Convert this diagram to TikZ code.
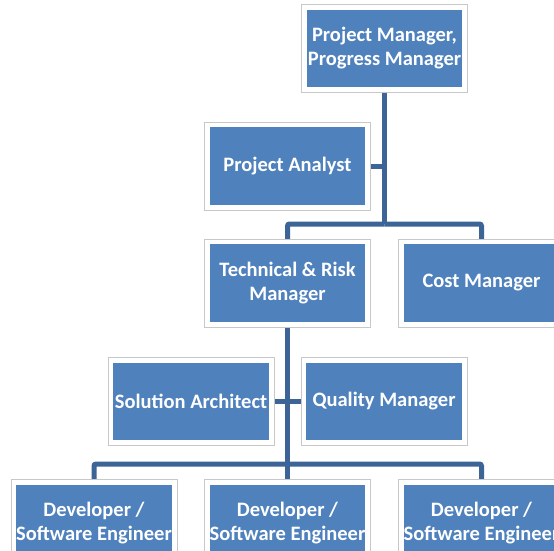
\documentclass[tikz,border=0pt]{standalone}
\usepackage{fontspec}
\setmainfont{Carlito}
\usepackage{tikz}
\usetikzlibrary{positioning}
\usetikzlibrary{backgrounds}
\usepackage{xcolor}
\definecolor{boxblue}{RGB}{79,129,189}
\definecolor{lineblue}{RGB}{60,100,150}
\definecolor{framegray}{RGB}{200,200,200}

\begin{document}
\begin{tikzpicture}[x=1pt, y=-1pt,
  role/.style={fill=boxblue, text=white, font=\bfseries\fontsize{20.5}{24}\selectfont,
    minimum width=160pt, minimum height=82pt, inner sep=0pt, align=center},
  frame/.style={draw=white, line width=5pt},
  edgeline/.style={draw=framegray, line width=0.8pt},
  link/.style={draw=lineblue, line width=5pt, rounded corners=2pt}]
  \useasboundingbox (0,0) rectangle (554,551);

  \node [role] (pm) at (384.5,48.5) {Project Manager,\\Progress Manager};
  \node [role] (analyst) at (287.5,166) {Project Analyst};
  \node [role] (tech) at (287.5,283) {Technical \& Risk\\Manager};
  \node [role] (cost) at (481.5,283) {Cost Manager};
  \node [role] (architect) at (191,401.5) {Solution Architect};
  \node [role] (quality) at (384,401.5) {Quality Manager};
  \node [role] (dev1) at (94,523.5) {Developer /\\Software Engineer};
  \node [role] (dev2) at (287.5,523.5) {Developer /\\Software Engineer};
  \node [role] (dev3) at (481.5,523.5) {Developer /\\Software Engineer};

  % white frame with a thin grey rim
  \foreach \n in {pm,analyst,tech,cost,architect,quality,dev1,dev2,dev3} {
    \draw [frame] (\n.south west) rectangle (\n.north east);
    \draw [edgeline] ([shift={(-2.9pt,-2.9pt)}]\n.south west) rectangle ([shift={(2.9pt,2.9pt)}]\n.north east);
  }

  \coordinate (split1) at (384.5,224);
  \coordinate (split2) at (287.5,464);

  \begin{scope}[on background layer]
    \fill [white] (0,0) rectangle (554,551);
    \draw [link] (pm) -- (split1);
    \draw [link] (analyst) -- (analyst -| split1);
    \draw [link] (split1) -| (tech);
    \draw [link] (split1) -| (cost);
    \draw [link] (tech) -- (split2);
    \draw [link] (architect) -- (quality);
    \draw [link] (split2) -| (dev1);
    \draw [link] (split2) -- (dev2);
    \draw [link] (split2) -| (dev3);
  \end{scope}
\end{tikzpicture}
\end{document}
